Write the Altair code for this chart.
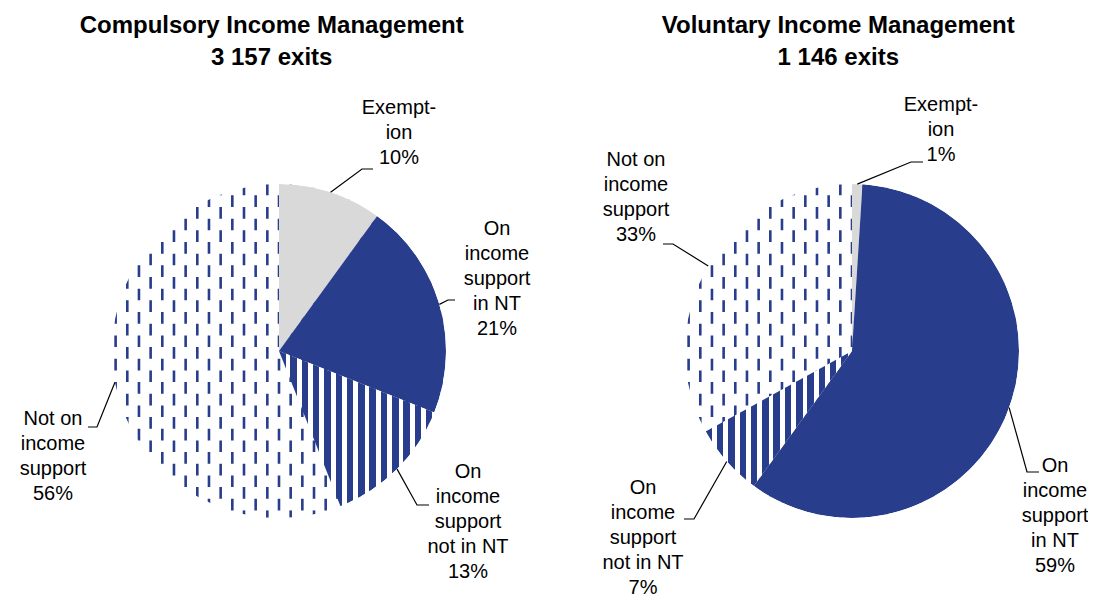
import math
import altair as alt
import pandas as pd

# ---------------- data ----------------
programs = ["Compulsory Income Management", "Voluntary Income Management"]
exit_labels = ["3 157 exits", "1 146 exits"]
categories = ["Exemption", "On income support in NT",
              "On income support not in NT", "Not on income support"]
category_display = ["Exempt-\nion", "On\nincome\nsupport\nin NT",
                    "On\nincome\nsupport\nnot in NT", "Not on\nincome\nsupport"]
compulsory_pct = [10, 21, 13, 56]
voluntary_pct = [1, 59, 7, 33]

# ---------------- layout / style ----------------
OFF = 8
W, H = 1080, 589
R = 167
centers = [(279 - OFF, 351 - OFF), (852 - OFF, 351 - OFF)]
title_pos = [(271.7 - OFF, 33.3 - OFF), (838.3 - OFF, 33.3 - OFF)]
# label first-line centre, leader elbow, leader end (page px) per pie per category
label_layout = [
    [((399, 108), (362, 169), (373, 169)),
     ((497, 229), (448, 300), (455, 300)),
     ((468, 472), (417, 505), (429, 505)),
     ((53, 419), (97, 427), (88, 427))],
    [((941, 105), (911, 162), (923, 162)),
     ((1055, 466), (1027, 472), (1039, 472)),
     ((643, 488), (694, 519), (684, 519)),
     ((636, 160), (673, 244), (663, 244))],
]
NAVY = "#283D8B"
GREY = "#D9D9D9"
FONT = "Arial"
STRIPE_P, STRIPE_W = 11.3, 6.5
DASH_DX, DASH_L = 11.67, 11.67

series = [compulsory_pct, voluntary_pct]
rows = []
for pi, prog in enumerate(programs):
    for ci, cat in enumerate(categories):
        rows.append(dict(program=prog, pie=pi, category=cat, order=ci,
                         pct=series[pi][ci], display=category_display[ci]))
df = pd.DataFrame(rows)

base = (alt.Chart(df)
        .transform_window(cum="sum(pct)", frame=[None, 0], groupby=["program"],
                          sort=[alt.SortField("order")])
        .transform_calculate(start="datum.cum - datum.pct"))

theta = alt.Theta("start:Q", scale=alt.Scale(domain=[0, 100]), stack=False)
theta2 = alt.Theta2("cum:Q")


def slice_layer(pi, cat, fill):
    cx, cy = centers[pi]
    return (base.transform_filter(
                (alt.datum.program == programs[pi]) & (alt.datum.category == cat))
            .mark_arc(outerRadius=R, innerRadius=0, fill=fill, strokeWidth=0)
            .encode(theta=theta, theta2=theta2, x=alt.value(cx), y=alt.value(cy)))


def stripe_gradient(pi):
    pcts = series[pi]
    s = sum(pcts[:2]) / 100 * 2 * math.pi
    e = sum(pcts[:3]) / 100 * 2 * math.pi
    xs = [0, math.sin(s), math.sin(e)]
    if s <= math.pi / 2 <= e:
        xs.append(1)
    if s <= 3 * math.pi / 2 <= e:
        xs.append(-1)
    wb = (max(xs) - min(xs)) * R
    stops = []
    pos = 0.0
    while pos < wb:
        a = pos / wb
        b = min((pos + STRIPE_W) / wb, 1)
        c = min((pos + STRIPE_P) / wb, 1)
        stops += [{"offset": a, "color": NAVY}, {"offset": b, "color": NAVY},
                  {"offset": b, "color": "white"}, {"offset": c, "color": "white"}]
        pos += STRIPE_P
    return {"gradient": "linear", "x1": 0, "x2": 1, "y1": 0, "y2": 0, "stops": stops}


def dash_layer(pi, shift):
    cx, cy = centers[pi]
    return (alt.Chart(alt.sequence(-8, 9, as_="j"))
            .transform_calculate(px=f"{cx} + {shift} + datum.j * {2 * DASH_DX}")
            .mark_rule(color=NAVY, strokeWidth=2.6, strokeDash=[DASH_L, DASH_L],
                       strokeDashOffset=shift, strokeCap="butt")
            .encode(x=alt.X("px:Q", scale=None, axis=None),
                    y=alt.value(cy - R - 12), y2=alt.value(cy + R + 12)))


def ring_layer(pi):
    cx, cy = centers[pi]
    return (alt.Chart(alt.sequence(0, 1, as_="k"))
            .mark_arc(innerRadius=R, outerRadius=R + 130, theta=0, theta2=2 * math.pi,
                      fill="white", strokeWidth=0)
            .encode(x=alt.value(cx), y=alt.value(cy)))


layers = []
for pi in range(2):
    layers.append(slice_layer(pi, categories[3], "white"))
    layers.append(dash_layer(pi, 0))
    layers.append(dash_layer(pi, DASH_DX))
    layers.append(slice_layer(pi, categories[0], GREY))
    layers.append(slice_layer(pi, categories[1], NAVY))
    layers.append(slice_layer(pi, categories[2], stripe_gradient(pi)))
for pi in range(2):
    layers.append(ring_layer(pi))

# leader lines and labels
lead_rows, lab_rows = [], []
for pi in range(2):
    cx, cy = centers[pi]
    pcts = series[pi]
    for ci, cat in enumerate(categories):
        mid = (sum(pcts[:ci]) + pcts[ci] / 2) / 100 * 2 * math.pi
        (lx, ly), (ex, ey), (tx, ty) = label_layout[pi][ci]
        key = f"{pi}-{ci}"
        pts = [(cx + R * math.sin(mid), cy - R * math.cos(mid)),
               (ex - OFF, ey - OFF), (tx - OFF, ty - OFF)]
        for si, (x, y) in enumerate(pts):
            lead_rows.append(dict(key=key, seq=si, x=x, y=y))
        lab_rows.append(dict(text=f"{category_display[ci]}\n{pcts[ci]}%",
                             x=lx - OFF, y=ly - OFF))

leaders = (alt.Chart(pd.DataFrame(lead_rows))
           .mark_line(color="black", strokeWidth=1.2)
           .encode(x=alt.X("x:Q", scale=None, axis=None),
                   y=alt.Y("y:Q", scale=None, axis=None),
                   detail="key:N", order="seq:O"))
labels = (alt.Chart(pd.DataFrame(lab_rows))
          .mark_text(font=FONT, fontSize=20, lineHeight=25, lineBreak="\n",
                     align="center", baseline="middle", color="black")
          .encode(x=alt.X("x:Q", scale=None, axis=None),
                  y=alt.Y("y:Q", scale=None, axis=None), text="text:N"))
titles_df = pd.DataFrame(dict(text=[f"{p}\n{e}" for p, e in zip(programs, exit_labels)],
                              x=[t[0] for t in title_pos], y=[t[1] for t in title_pos]))
titles = (alt.Chart(titles_df)
          .mark_text(font=FONT, fontSize=24, fontWeight="bold", lineHeight=31.7,
                     lineBreak="\n", align="center", baseline="alphabetic", color="black")
          .encode(x=alt.X("x:Q", scale=None, axis=None),
                  y=alt.Y("y:Q", scale=None, axis=None), text="text:N"))

layers += [leaders, labels, titles]

chart = (alt.layer(*layers)
         .properties(width=W, height=H, padding=0,
                     autosize=alt.AutoSizeParams(type="none"))
         .configure_view(stroke=None))

chart.save("out.html", embed_options={"renderer": "svg", "actions": False})
